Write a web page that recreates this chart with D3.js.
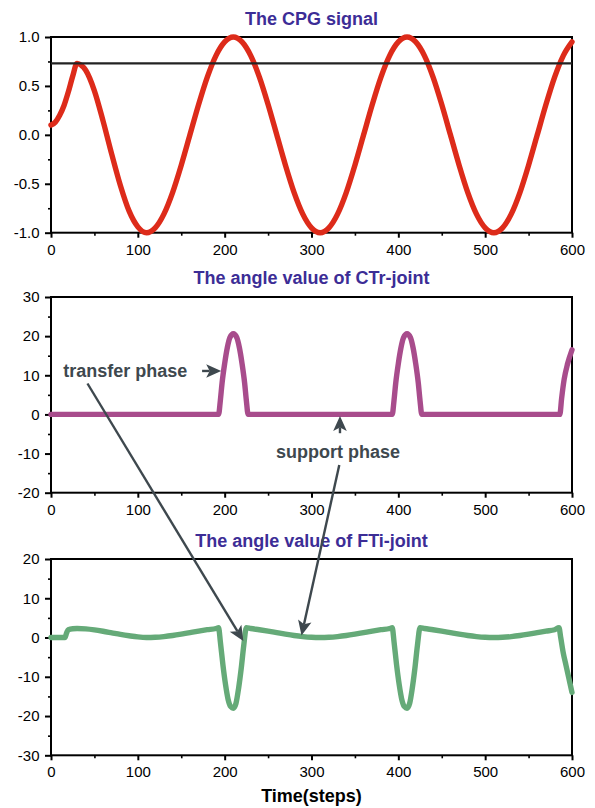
<!DOCTYPE html>
<html>
<head>
<meta charset="utf-8">
<script src="https://cdn.jsdelivr.net/npm/d3@7"></script>
<style>
  html, body { margin: 0; padding: 0; background: #fff; }
  svg { display: block; }
</style>
</head>
<body>
<svg id="chart" width="595" height="808"></svg>
<script>
// ---- CPG output signal ----
const cpgSteps  = [0, 5, 10, 15, 20, 25, 30, 35, 40, 50, 60, 70, 80, 90, 100, 110,
  120, 130, 140, 150, 160, 170, 180, 190, 200, 210, 220, 230, 240, 250, 260, 270, 280, 290, 300, 310,
  320, 330, 340, 350, 360, 370, 380, 390, 400, 410, 420, 430, 440, 450, 460, 470, 480, 490, 500, 510,
  520, 530, 540, 550, 560, 570, 580, 590, 600];
const cpgValues = [0.10, 0.13, 0.20, 0.30, 0.44, 0.60, 0.73, 0.71, 0.66, 0.45, 0.14, -0.20, -0.52, -0.78, -0.94, -1.00,
  -0.95, -0.81, -0.59, -0.31, 0.00, 0.31, 0.59, 0.81, 0.95, 1.00, 0.95, 0.81, 0.59, 0.31, 0.00, -0.31, -0.59, -0.81, -0.95, -1.00,
  -0.95, -0.81, -0.59, -0.31, 0.00, 0.31, 0.59, 0.81, 0.95, 1.00, 0.95, 0.81, 0.59, 0.31, 0.00, -0.31, -0.59, -0.81, -0.95, -1.00,
  -0.95, -0.81, -0.59, -0.31, 0.00, 0.31, 0.59, 0.81, 0.95];
const cpgThreshold = 0.73;

// ---- CTr-joint angle ----
const ctrSteps  = [0, 193, 195, 197, 200, 203, 206, 210, 214, 217, 220, 223, 225, 227,
  393, 395, 397, 400, 403, 406, 410, 414, 417, 420, 423, 425, 427,
  586, 588, 591, 595, 600];
const ctrValues = [0, 0, 3.5, 8, 13, 17, 19.6, 20.6, 19.6, 17, 13, 8, 3.5, 0,
  0, 3.5, 8, 13, 17, 19.6, 20.6, 19.6, 17, 13, 8, 3.5, 0,
  0, 4, 9, 13, 16.5];

// ---- FTi-joint angle ----
const ftiSteps  = [0, 16, 18, 20, 25, 30, 40, 50, 60, 70, 80, 90, 100, 110,
  120, 130, 140, 150, 160, 170, 180, 190, 193,
  195, 198, 201, 204, 207, 210, 213, 216, 219, 222, 225,
  230, 240, 250, 260, 270, 280, 290, 300, 310,
  320, 330, 340, 350, 360, 370, 380, 390, 393,
  395, 398, 401, 404, 407, 410, 413, 416, 419, 422, 425,
  430, 440, 450, 460, 470, 480, 490, 500, 510,
  520, 530, 540, 550, 560, 570, 580, 585,
  587, 590, 593, 596, 600];
const ftiValues = [0, 0, 1.2, 2.0, 2.25, 2.3, 2.2, 1.95, 1.6, 1.2, 0.8, 0.45, 0.15, 0,
  0.06, 0.24, 0.51, 0.86, 1.25, 1.64, 1.99, 2.3, 2.5,
  -1, -7, -12, -15.8, -17.6, -18, -16.8, -13, -8, -2, 2.5,
  2.3, 1.99, 1.64, 1.25, 0.86, 0.51, 0.24, 0.06, 0,
  0.06, 0.24, 0.51, 0.86, 1.25, 1.64, 1.99, 2.3, 2.5,
  -1, -7, -12, -15.8, -17.6, -18, -16.8, -13, -8, -2, 2.5,
  2.3, 1.99, 1.64, 1.25, 0.86, 0.51, 0.24, 0.06, 0,
  0.06, 0.24, 0.51, 0.86, 1.25, 1.64, 1.99, 2.5,
  0, -4, -7, -10, -14];

// ---- axes ----
const xTicks      = [0, 100, 200, 300, 400, 500, 600];
const xMinorTicks = [50, 150, 250, 350, 450, 550];
const cpgTicks  = [-1, -0.5, 0, 0.5, 1];
const cpgMinor  = [-0.75, -0.25, 0.25, 0.75];
const ctrTicks  = [-20, -10, 0, 10, 20, 30];
const ctrMinor  = [-15, -5, 5, 15, 25];
const ftiTicks  = [-30, -20, -10, 0, 10, 20];
const ftiMinor  = [-25, -15, -5, 5, 15];

const titles = ["The CPG signal", "The angle value of CTr-joint", "The angle value of FTi-joint"];
const xLabel = "Time(steps)";

// ---- annotations (step / value in the panel they sit on) ----
const phaseLabels      = ["transfer phase", "support phase"];
const phaseLabelSteps  = [14, 330.5];
const phaseLabelValues = [11.1, -9.5];
const phaseLabelAnchor = ["start", "middle"];

// arrows: [fromPanel, fromStep, fromValue, toPanel, toStep, toValue]
const phaseArrows = [
  [1, 174, 11.1, 1, 196, 11.1],
  [1, 42, 7.9, 2, 221.5, -0.9],
  [1, 332.8, -4.8, 1, 332.8, -0.4],
  [1, 332, -12.9, 2, 288.5, 0.5]
];

// ---- layout ----
const svg = d3.select("#chart");
const FONT = "'Liberation Sans', Arial, Helvetica, sans-serif";
const left = 51, right = 572;
const x = d3.scaleLinear([0, 600], [left, right]);

const panels = [
  { top: 37,  bottom: 232.7, domain: [-1, 1],   ticks: cpgTicks, minor: cpgMinor, fmt: v => v.toFixed(1),
    steps: cpgSteps, values: cpgValues, color: "#dd2b1a", titleY: 25 },
  { top: 297, bottom: 492.7, domain: [-20, 30], ticks: ctrTicks, minor: ctrMinor, fmt: v => String(v),
    steps: ctrSteps, values: ctrValues, color: "#a84c8c", titleY: 284 },
  { top: 559, bottom: 755.3, domain: [-30, 20], ticks: ftiTicks, minor: ftiMinor, fmt: v => String(v),
    steps: ftiSteps, values: ftiValues, color: "#65aa78", titleY: 547 }
];
panels.forEach(p => { p.y = d3.scaleLinear(p.domain, [p.bottom, p.top]); });

function styleAxis(g, width) {
  g.select(".domain").remove();
  g.selectAll(".tick line").attr("stroke", "#000").attr("stroke-width", width);
  g.selectAll(".tick text")
    .attr("fill", "#000")
    .attr("font-family", FONT)
    .attr("font-size", 15);
}

panels.forEach((p, i) => {
  const g = svg.append("g");

  // x axis ticks
  g.append("g").attr("transform", `translate(0,${p.bottom})`)
    .call(d3.axisBottom(x).tickValues(xMinorTicks).tickSize(3).tickFormat(""))
    .call(a => styleAxis(a, 1.6));
  g.append("g").attr("transform", `translate(0,${p.bottom})`)
    .call(d3.axisBottom(x).tickValues(xTicks).tickSize(5).tickPadding(6.5).tickFormat(d => String(d)))
    .call(a => styleAxis(a, 2));

  // y axis ticks
  g.append("g").attr("transform", `translate(${left},0)`)
    .call(d3.axisLeft(p.y).tickValues(p.minor).tickSize(3).tickFormat(""))
    .call(a => styleAxis(a, 1.6));
  g.append("g").attr("transform", `translate(${left},0)`)
    .call(d3.axisLeft(p.y).tickValues(p.ticks).tickSize(6).tickPadding(5.5).tickFormat(p.fmt))
    .call(a => styleAxis(a, 2));

  // frame
  g.append("rect")
    .attr("x", left).attr("y", p.top)
    .attr("width", right - left).attr("height", p.bottom - p.top)
    .attr("fill", "none").attr("stroke", "#000").attr("stroke-width", 2);

  // series
  const pts = p.steps.map((s, k) => [s, p.values[k]]);
  const line = d3.line().x(d => x(d[0])).y(d => p.y(d[1])).curve(d3.curveMonotoneX);
  g.append("path")
    .attr("d", line(pts))
    .attr("fill", "none")
    .attr("stroke", p.color)
    .attr("stroke-width", 5.4)
    .attr("stroke-linecap", "round")
    .attr("stroke-linejoin", "round");

  // title
  g.append("text")
    .attr("x", (left + right) / 2).attr("y", p.titleY)
    .attr("text-anchor", "middle")
    .attr("font-family", FONT).attr("font-weight", "bold").attr("font-size", 18)
    .attr("fill", "#3c2d96")
    .text(titles[i]);
});

// threshold line on the CPG panel
svg.append("line")
  .attr("x1", left).attr("x2", right)
  .attr("y1", panels[0].y(cpgThreshold)).attr("y2", panels[0].y(cpgThreshold))
  .attr("stroke", "#222").attr("stroke-width", 2.2);

// x axis title
svg.append("text")
  .attr("x", (left + right) / 2).attr("y", 802)
  .attr("text-anchor", "middle")
  .attr("font-family", FONT).attr("font-weight", "bold").attr("font-size", 18)
  .attr("fill", "#000")
  .text(xLabel);

// phase annotations
const annoColor = "#3e484e";
phaseLabels.forEach((t, i) => {
  svg.append("text")
    .attr("x", x(phaseLabelSteps[i]))
    .attr("y", panels[1].y(phaseLabelValues[i]))
    .attr("dy", "0.35em")
    .attr("text-anchor", phaseLabelAnchor[i])
    .attr("font-family", FONT).attr("font-weight", "bold").attr("font-size", 18)
    .attr("fill", annoColor)
    .text(t);
});

function drawArrow(x1, y1, x2, y2) {
  const len = 15, hw = 6.8, notch = 3.5;
  const dx = x2 - x1, dy = y2 - y1, d = Math.hypot(dx, dy);
  const ux = dx / d, uy = dy / d, nx = -uy, ny = ux;
  const bx = x2 - ux * len, by = y2 - uy * len;
  const mx = x2 - ux * (len - notch), my = y2 - uy * (len - notch);
  svg.append("line")
    .attr("x1", x1).attr("y1", y1).attr("x2", mx).attr("y2", my)
    .attr("stroke", annoColor).attr("stroke-width", 2.4);
  svg.append("path")
    .attr("d", `M${x2},${y2}L${bx + nx * hw},${by + ny * hw}L${mx},${my}L${bx - nx * hw},${by - ny * hw}Z`)
    .attr("fill", annoColor);
}

phaseArrows.forEach(a => {
  const p0 = panels[a[0]], p1 = panels[a[3]];
  drawArrow(x(a[1]), p0.y(a[2]), x(a[4]), p1.y(a[5]));
});
</script>
</body>
</html>
